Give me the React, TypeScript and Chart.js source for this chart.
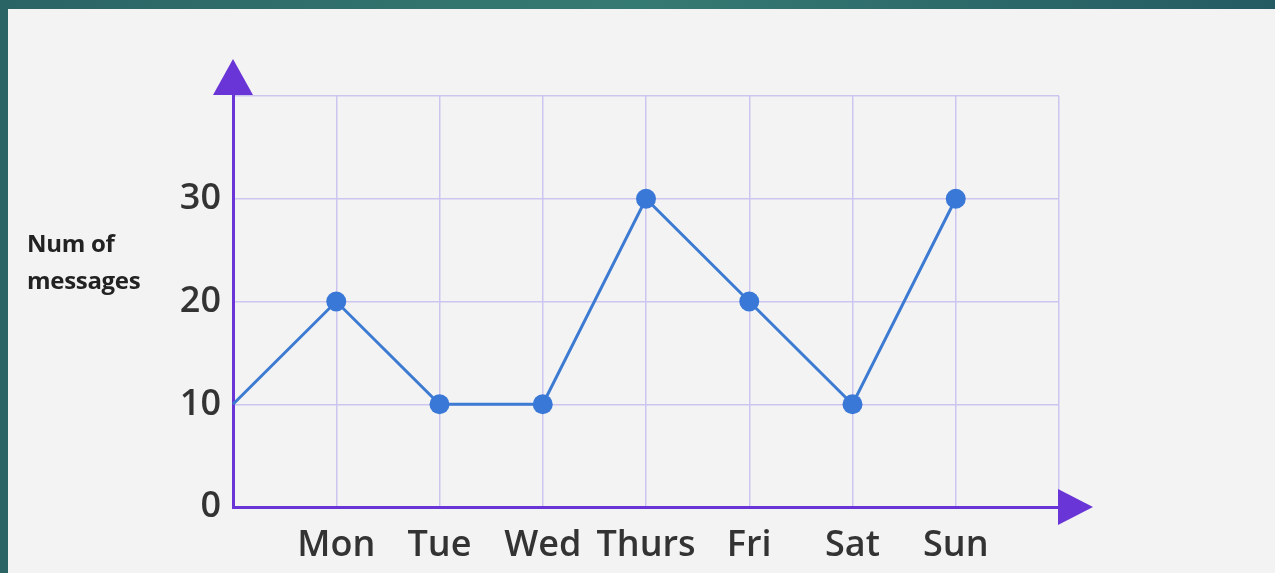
import React, { useEffect, useRef } from "react";
import { Chart, registerables } from "chart.js";

Chart.register(...registerables);

const categories = ["Mon", "Tue", "Wed", "Thurs", "Fri", "Sat", "Sun"];
const startValue = 10;
const messages = [20, 10, 10, 30, 20, 10, 30];
const yTickValues = [0, 10, 20, 30];
const yMax = 40;
const axisTitleLines = ["Num of", "messages"];

const PURPLE = "#6a35d6";
const GRID = "#cdc5f0";
const LINE = "#3d7bd3";
const POINT = "#3a78d8";
const TICK = "#333333";

const arrowPlugin = {
  id: "axisArrows",
  afterDraw(chart: any) {
    const { ctx, chartArea } = chart;
    const x0 = chartArea.left;
    const y0 = chartArea.bottom;
    ctx.save();
    ctx.fillStyle = PURPLE;
    ctx.beginPath();
    ctx.moveTo(x0 - 20, chartArea.top - 1);
    ctx.lineTo(x0 + 20, chartArea.top - 1);
    ctx.lineTo(x0, chartArea.top - 37);
    ctx.closePath();
    ctx.fill();
    ctx.beginPath();
    ctx.moveTo(chartArea.right - 1, y0 - 18);
    ctx.lineTo(chartArea.right - 1, y0 + 18);
    ctx.lineTo(chartArea.right + 34, y0);
    ctx.closePath();
    ctx.fill();
    ctx.restore();
  },
};

export default function App() {
  const ref = useRef<HTMLCanvasElement | null>(null);

  useEffect(() => {
    if (!ref.current) return;
    const points = [
      { x: 0, y: startValue },
      ...messages.map((v, i) => ({ x: i + 1, y: v })),
    ];
    const chart = new Chart(ref.current, {
      type: "line",
      data: {
        datasets: [
          {
            data: points,
            borderColor: LINE,
            borderWidth: 3,
            backgroundColor: POINT,
            pointBackgroundColor: POINT,
            pointBorderColor: POINT,
            pointRadius: (c: any) => (c.dataIndex === 0 ? 0 : 10),
            pointBorderWidth: 0,
            tension: 0,
            clip: false,
          },
        ],
      },
      options: {
        animation: false,
        responsive: false,
        maintainAspectRatio: false,
        layout: { padding: { top: 96, right: 216, left: 0, bottom: 0 } },
        plugins: {
          legend: { display: false },
          tooltip: { enabled: false },
        },
        scales: {
          x: {
            type: "linear",
            min: 0,
            max: categories.length + 1,
            ticks: {
              stepSize: 1,
              autoSkip: false,
              maxRotation: 0,
              padding: 17,
              color: TICK,
              font: { family: "'Open Sans'", size: 36, weight: "600" },
              callback: (v: any) => categories[Number(v) - 1] ?? "",
            },
            grid: { color: GRID, lineWidth: 1.5, drawTicks: false },
            border: { color: PURPLE, width: 3 },
            afterFit: (s: any) => {
              s.height = 66;
            },
          },
          y: {
            min: 0,
            max: yMax,
            afterBuildTicks: (s: any) => {
              s.ticks = [...yTickValues, yMax].map((v) => ({ value: v }));
            },
            ticks: {
              padding: 12,
              color: TICK,
              font: { family: "'Open Sans'", size: 36, weight: "600" },
              callback: (v: any) => (yTickValues.includes(Number(v)) ? String(v) : ""),
            },
            grid: { color: GRID, lineWidth: 1.5, drawTicks: false },
            border: { color: PURPLE, width: 3 },
            afterFit: (s: any) => {
              s.width = 233;
            },
          },
        },
      },
      plugins: [arrowPlugin],
    } as any);
    return () => chart.destroy();
  }, []);

  return (
    <div
      style={{
        position: "fixed",
        left: 0,
        top: 0,
        width: 1275,
        height: 573,
        background: "linear-gradient(90deg, #2a6464 0%, #357a72 50%, #245a62 100%)",
        overflow: "hidden",
      }}
    >
      <div
        style={{
          position: "absolute",
          left: 8,
          top: 9,
          right: 0,
          bottom: 0,
          background: "#f3f3f3",
        }}
      />
      <canvas
        ref={ref}
        width={1275}
        height={573}
        style={{ position: "absolute", left: 0, top: 0, width: 1275, height: 573 }}
      />
      <div
        style={{
          position: "absolute",
          left: 27,
          top: 224,
          fontFamily: "'Open Sans', sans-serif",
          fontWeight: 700,
          fontSize: 24,
          lineHeight: "37px",
          letterSpacing: "-0.3px",
          color: "#222",
          whiteSpace: "nowrap",
        }}
      >
        {axisTitleLines.map((t) => (
          <div key={t}>{t}</div>
        ))}
      </div>
    </div>
  );
}
